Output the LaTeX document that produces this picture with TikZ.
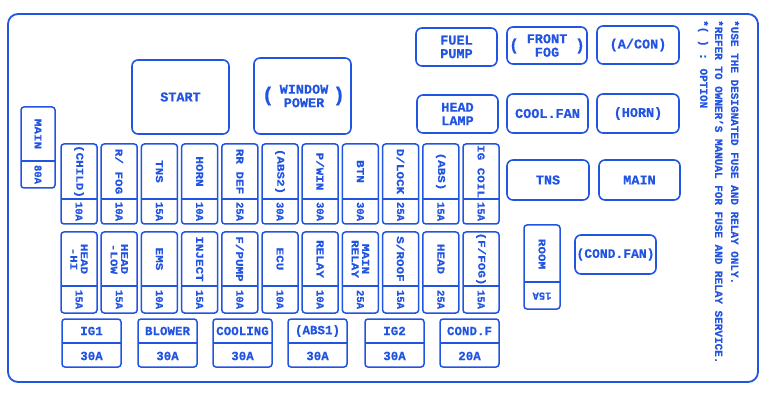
\documentclass[tikz,border=0pt]{standalone}
\usepackage{fontspec}
\setmainfont{Liberation Mono}[BoldFont={Liberation Mono Bold}, BoldFeatures={FakeBold=0.6}]
\newfontfamily\fusefont[FakeStretch=1.2, BoldFont={Liberation Mono Bold}, BoldFeatures={FakeStretch=1.2, FakeBold=0.6}]{Liberation Mono}
\definecolor{fc}{RGB}{34,84,226}
\tikzset{
 fbox/.style={draw=fc, line width=1.5pt, rounded corners=3pt},
 rbox/.style={draw=fc, line width=1.6pt, rounded corners=6pt},
 fline/.style={draw=fc, line width=1.3pt},
 vlab/.style={text=fc, inner sep=0pt, rotate=-90, align=center, font=\fusefont\bfseries\fontsize{10.5}{10.5}\selectfont},
 vamp/.style={text=fc, inner sep=0pt, rotate=-90, font=\bfseries\fontsize{10.5}{10.5}\selectfont},
 rlab/.style={text=fc, inner sep=0pt, align=center, font=\bfseries\fontsize{13.5}{13.5}\selectfont},
 hlab/.style={text=fc, inner sep=0pt, font=\bfseries\fontsize{12.5}{12}\selectfont},
 note/.style={text=fc, inner sep=0pt, rotate=-90, anchor=west, font=\bfseries\fontsize{11}{11}\selectfont},
}
\newcommand\vfuse[7]{%
  \draw[fbox] (#2,#3) rectangle (#2+36,#5);
  \draw[fline] (#2,#4) -- (#2+36,#4);
  \node[vlab] (#1-l) at (#2+18,{(#3+#4)/2}) {#6};
  \node[vamp] (#1-a) at (#2+18,{(#4+#5)/2}) {#7};
}
\newcommand\hfuse[4]{%
  \draw[fbox] (#2,319) rectangle (#2+59,367);
  \draw[fline] (#2,343) -- (#2+59,343);
  \node[hlab] (#1-l) at (#2+29.5,331) {#3};
  \node[hlab] (#1-a) at (#2+29.5,356) {#4};
}
\begin{document}
\begin{tikzpicture}[x=1pt,y=-1pt]
\useasboundingbox (0,0) rectangle (768,403);
% outer frame
\draw[draw=fc, line width=1.8pt, rounded corners=10pt] (8,382) -- (8,14) -- (758,14) -- (758,382) -- cycle;

% notes
\node[note] (n1) at (735,20) {*USE THE DESIGNATED FUSE AND RELAY ONLY.};
\node[note] (n2) at (719,20) {*REFER TO OWNER'S MANUAL FOR FUSE AND RELAY SERVICE.};
\node[note] (n3) at (703,20) {*( ) : OPTION};

% relays
\node[rbox, rlab, minimum width=97pt, minimum height=74pt] (start) at (180.5,97) {START};
\node[rbox, minimum width=97pt, minimum height=76pt] (win) at (302.5,96) {};
\node[rlab] (winT) at (304,96) {WINDOW\\POWER};
\node[text=fc, font=\bfseries\fontsize{20}{20}\selectfont, inner sep=0pt] (winL) at (268,96) {(};
\node[text=fc, font=\bfseries\fontsize{20}{20}\selectfont, inner sep=0pt] (winR) at (339,96) {)};
\node[rbox, rlab, minimum width=81pt, minimum height=38pt] (fuel) at (456.5,47) {FUEL\\PUMP};
\node[rbox, rlab, minimum width=81pt, minimum height=38pt] (head) at (457.5,114) {HEAD\\LAMP};
\node[rbox, minimum width=80pt, minimum height=37pt] (ffog) at (547,45.5) {};
\node[rlab] (ffogT) at (547,45.5) {FRONT\\FOG};
\node[text=fc, font=\bfseries\fontsize{16}{16}\selectfont, inner sep=0pt] (ffogL) at (514,46) {(};
\node[text=fc, font=\bfseries\fontsize{16}{16}\selectfont, inner sep=0pt] (ffogR) at (580,46) {)};
\node[rbox, rlab, minimum width=82pt, minimum height=38pt] (acon) at (638,45) {(A/CON)};
\node[rbox, rlab, minimum width=81pt, minimum height=39pt] (cfan) at (547.5,113.5) {COOL.FAN};
\node[rbox, rlab, minimum width=82pt, minimum height=39pt] (horn) at (638,113.5) {(HORN)};
\node[rbox, rlab, minimum width=82pt, minimum height=40pt] (tns) at (548,180) {TNS};
\node[rbox, rlab, minimum width=81pt, minimum height=40pt] (main) at (639.5,180) {MAIN};
\node[rbox, rlab, font=\bfseries\fontsize{13}{12}\selectfont, minimum width=81pt, minimum height=39pt] (cond) at (615.5,254.5) {(COND.FAN)};

% main 80A
\draw[fbox] (21,107) rectangle (55,188);
\draw[fline] (21,161) -- (55,161);
\node[vlab] (m80-l) at (38,134) {MAIN};
\node[vamp] (m80-a) at (38,174.5) {80A};

% room
\draw[fbox] (524,225) rectangle (560,309);
\draw[fline] (524,282) -- (560,282);
\node[vlab] (room-l) at (542,254) {ROOM};
\node[vamp, rotate=-90] (room-a) at (542,296) {15A};

% row 1
\vfuse{a1}{61}{144}{199}{224}{(CHILD)}{10A}
\vfuse{a2}{101.2}{144}{199}{224}{R/ FOG}{10A}
\vfuse{a3}{141.4}{144}{199}{224}{TNS}{15A}
\vfuse{a4}{181.6}{144}{199}{224}{HORN}{10A}
\vfuse{a5}{221.8}{144}{199}{224}{RR DEF}{25A}
\vfuse{a6}{262}{144}{199}{224}{(ABS2)}{30A}
\vfuse{a7}{302.2}{144}{199}{224}{P/WIN}{30A}
\vfuse{a8}{342.4}{144}{199}{224}{BTN}{30A}
\vfuse{a9}{382.6}{144}{199}{224}{D/LOCK}{25A}
\vfuse{a10}{422.8}{144}{199}{224}{(ABS)}{15A}
\vfuse{a11}{463}{144}{199}{224}{IG COIL}{15A}

% row 2
\vfuse{b1}{61}{232}{286}{313}{HEAD\\-HI}{15A}
\vfuse{b2}{101.2}{232}{286}{313}{HEAD\\-LOW}{15A}
\vfuse{b3}{141.4}{232}{286}{313}{EMS}{10A}
\vfuse{b4}{181.6}{232}{286}{313}{INJECT}{15A}
\vfuse{b5}{221.8}{232}{286}{313}{F/PUMP}{10A}
\vfuse{b6}{262}{232}{286}{313}{ECU}{10A}
\vfuse{b7}{302.2}{232}{286}{313}{RELAY}{10A}
\vfuse{b8}{342.4}{232}{286}{313}{MAIN\\RELAY}{25A}
\vfuse{b9}{382.6}{232}{286}{313}{S/ROOF}{15A}
\vfuse{b10}{422.8}{232}{286}{313}{HEAD}{25A}
\vfuse{b11}{463}{232}{286}{313}{(F/FOG)}{15A}

% bottom row
\hfuse{c1}{62}{IG1}{30A}
\hfuse{c2}{138}{BLOWER}{30A}
\hfuse{c3}{213}{COOLING}{30A}
\hfuse{c4}{288}{(ABS1)}{30A}
\hfuse{c5}{365}{IG2}{30A}
\hfuse{c6}{440}{COND.F}{20A}
\end{tikzpicture}
\end{document}
